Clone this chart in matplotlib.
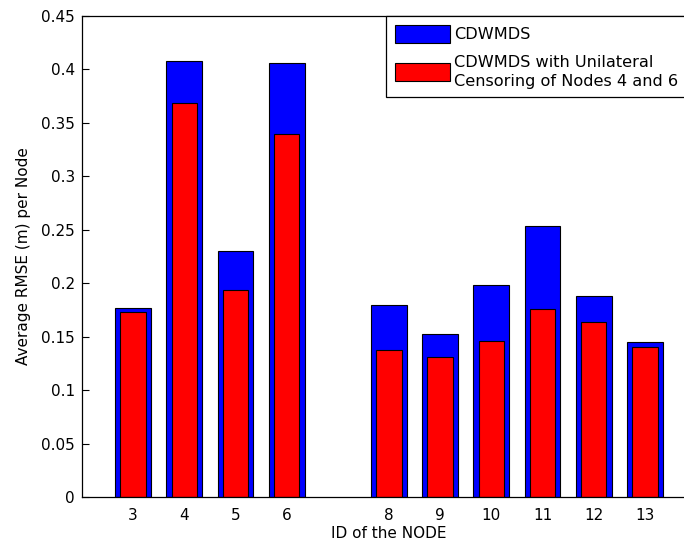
import matplotlib
matplotlib.use('Agg')
import matplotlib.pyplot as plt

nodes = [3, 4, 5, 6, 8, 9, 10, 11, 12, 13]
rmse_cdwmds = [0.1765, 0.408, 0.230, 0.406, 0.180, 0.1528, 0.1987, 0.2535, 0.1884, 0.1447]
rmse_censored = [0.1734, 0.369, 0.1934, 0.340, 0.1378, 0.1313, 0.146, 0.1762, 0.164, 0.1406]
yticks = [0, 0.05, 0.1, 0.15, 0.2, 0.25, 0.3, 0.35, 0.4, 0.45]
ytick_labels = ['0', '0.05', '0.1', '0.15', '0.2', '0.25', '0.3', '0.35', '0.4', '0.45']

plt.rcParams['font.family'] = ['DejaVu Sans']
fs = 11

W, H = 684, 546
fig = plt.figure(figsize=(W / 100, H / 100), dpi=100)
# axes run past the right edge of the picture, as in the cropped original
ax = fig.add_axes([82 / W, 1 - 497 / H, (696 - 82) / W, (497 - 16) / H])

ax.bar(nodes, rmse_cdwmds, width=0.7, color='#0000ff', edgecolor='black',
       linewidth=0.8, label='CDWMDS')
ax.bar(nodes, rmse_censored, width=0.5, color='#ff0000', edgecolor='black',
       linewidth=0.8, label='CDWMDS with Unilateral\nCensoring of Nodes 4 and 6')

ax.set_axisbelow(True)
ax.set_xlim(2, 14)
ax.set_ylim(0, 0.45)
ax.set_xticks(nodes)
ax.set_xticklabels([str(n) for n in nodes])
ax.set_yticks(yticks)
ax.set_yticklabels(ytick_labels)
ax.tick_params(direction='in', length=5, labelsize=fs, colors='black')
ax.tick_params(axis='x', pad=8)
ax.tick_params(axis='y', pad=5)
ax.set_xlabel('ID of the NODE', fontsize=fs, labelpad=2)
ax.set_ylabel('Average RMSE (m) per Node', fontsize=fs, labelpad=7)
ax.spines['right'].set_visible(False)
for s in ax.spines.values():
    s.set_linewidth(0.9)

leg = fig.legend(loc='upper left', bbox_to_anchor=(386 / W, 1 - 16 / H),
                 fontsize=11.6, fancybox=False, framealpha=1, edgecolor='black',
                 handlelength=3.4, handleheight=1.35, borderpad=0.55,
                 labelspacing=0.75, handletextpad=0.3, borderaxespad=0)
leg.get_frame().set_linewidth(0.9)
for t in leg.get_texts():
    t.set_linespacing(1.3)

fig.savefig('out.png', dpi=100)
